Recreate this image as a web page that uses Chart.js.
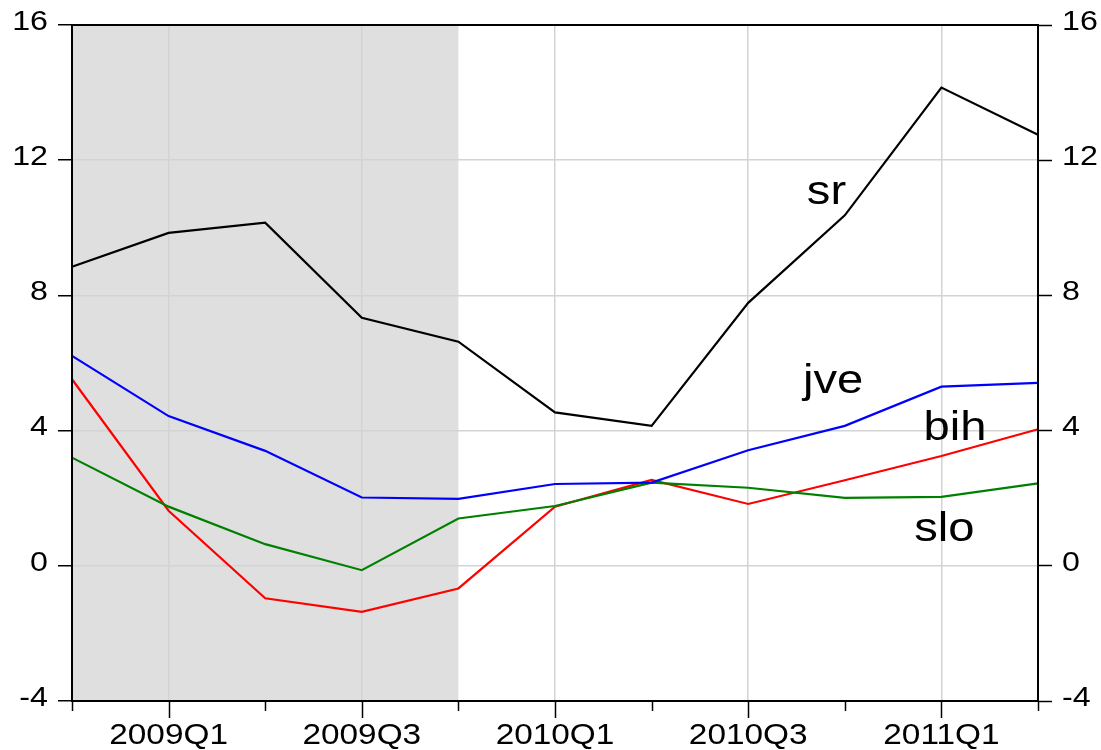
<!DOCTYPE html>
<html>
<head>
<meta charset="utf-8">
<script src="https://cdn.jsdelivr.net/npm/chart.js@4/dist/chart.umd.min.js"></script>
<style>
html,body{margin:0;padding:0;background:#fff;}
#wrap{width:1101px;height:750px;position:relative;}
</style>
</head>
<body>
<div id="wrap"><canvas id="c" width="1101" height="750"></canvas></div>
<script>
const quarters = ['2008Q4','2009Q1','2009Q2','2009Q3','2009Q4','2010Q1','2010Q2','2010Q3','2010Q4','2011Q1','2011Q2'];
const sr  = [8.85, 9.85, 10.15, 7.34, 6.63, 4.54, 4.14, 7.78, 10.37, 14.15, 12.75];
const jve = [6.21, 4.43, 3.40, 2.02, 1.98, 2.42, 2.46, 3.42, 4.14, 5.30, 5.41];
const bih = [5.52, 1.63, -0.96, -1.36, -0.67, 1.75, 2.54, 1.83, 2.53, 3.25, 4.04];
const slo = [3.20, 1.75, 0.64, -0.13, 1.40, 1.77, 2.46, 2.31, 2.01, 2.04, 2.44];
const xTickLabels = ['2009Q1','2009Q3','2010Q1','2010Q3','2011Q1'];
const yTicks = [-4, 0, 4, 8, 12, 16];
const shadeFrom = '2008Q4', shadeTo = '2009Q4';
const seriesNames = ['sr','jve','bih','slo'];

const FONT = "'Liberation Sans', Arial, sans-serif";
const STRETCH = 1.15;

function stretchedText(ctx, txt, x, y, align) {
  ctx.save();
  ctx.translate(x, y);
  ctx.scale(STRETCH, 1);
  ctx.textAlign = align;
  ctx.fillText(txt, 0, 0);
  ctx.restore();
}

const framePlugin = {
  id: 'frame',
  beforeDraw(chart) {
    const ctx = chart.ctx, a = chart.chartArea, xs = chart.scales.x;
    ctx.save();
    ctx.fillStyle = '#fff';
    ctx.fillRect(0, 0, chart.width, chart.height);
    const x0 = xs.getPixelForValue(quarters.indexOf(shadeFrom));
    const x1 = xs.getPixelForValue(quarters.indexOf(shadeTo));
    ctx.fillStyle = '#dfdfdf';
    ctx.fillRect(x0, a.top, x1 - x0, a.bottom - a.top);
    ctx.restore();
  },
  afterDraw(chart) {
    const ctx = chart.ctx, a = chart.chartArea, xs = chart.scales.x, ys = chart.scales.y;
    ctx.save();
    ctx.strokeStyle = '#000';
    ctx.lineWidth = 2;
    ctx.strokeRect(a.left, a.top, a.right - a.left, a.bottom - a.top);
    // x ticks
    ctx.lineWidth = 1.5;
    quarters.forEach((q, i) => {
      const px = Math.round(xs.getPixelForValue(i)) + 0.5;
      const len = xTickLabels.includes(q) ? 17 : 10;
      ctx.beginPath();
      ctx.moveTo(px, a.bottom);
      ctx.lineTo(px, a.bottom + len);
      ctx.stroke();
    });
    ctx.fillStyle = '#000';
    // x tick labels
    ctx.font = '29px ' + FONT;
    ctx.textBaseline = 'middle';
    quarters.forEach((q, i) => {
      if (xTickLabels.includes(q)) stretchedText(ctx, q, xs.getPixelForValue(i), a.bottom + 35, 'center');
    });
    // y tick labels, both sides
    ctx.font = '28px ' + FONT;
    yTicks.forEach(v => {
      const py = ys.getPixelForValue(v) - 3;
      stretchedText(ctx, String(v), a.left - 24, py, 'right');
      stretchedText(ctx, String(v), a.right + 24, py, 'left');
    });
    // series labels
    ctx.font = '41px ' + FONT;
    const pos = {sr: [7.81, 11.05], jve: [7.88, 5.45], bih: [9.14, 4.05], slo: [9.03, 1.06]};
    seriesNames.forEach(n => {
      const p = pos[n];
      stretchedText(ctx, n, xs.getPixelForValue(p[0]), ys.getPixelForValue(p[1]), 'center');
    });
    ctx.restore();
  }
};

const mk = (label, data, color) => ({
  label, data, borderColor: color, backgroundColor: color,
  borderWidth: 2.2, pointRadius: 0, tension: 0, fill: false, yAxisID: 'y'
});

new Chart(document.getElementById('c'), {
  type: 'line',
  data: {
    labels: quarters,
    datasets: [
      mk('sr', sr, '#000000'),
      mk('jve', jve, '#0000ff'),
      mk('slo', slo, '#008000'),
      mk('bih', bih, '#ff0000')
    ]
  },
  options: {
    responsive: false,
    animation: false,
    devicePixelRatio: 1,
    layout: { padding: { top: 25, left: 0, right: 0, bottom: 0 } },
    plugins: { legend: { display: false }, tooltip: { enabled: false } },
    scales: {
      x: {
        type: 'category',
        offset: false,
        border: { display: false },
        grid: {
          drawTicks: false,
          color: (c) => (c.tick && xTickLabels.includes(quarters[c.index])) ? '#d3d3d3' : 'rgba(0,0,0,0)',
          lineWidth: 1.5
        },
        ticks: { display: false, autoSkip: false, maxRotation: 0, minRotation: 0 },
        afterFit: (s) => { s.height = 49; }
      },
      y: {
        position: 'left',
        min: -4, max: 16,
        border: { display: false },
        afterBuildTicks: (s) => { s.ticks = yTicks.map(v => ({ value: v })); },
        grid: {
          color: (c) => (c.tick && (c.tick.value === -4 || c.tick.value === 16)) ? 'rgba(0,0,0,0)' : '#d3d3d3',
          lineWidth: 1.5,
          tickLength: 14,
          tickColor: '#000',
          tickWidth: 1.5
        },
        ticks: { display: false },
        afterFit: (s) => { s.width = 72; }
      },
      y2: {
        position: 'right',
        min: -4, max: 16,
        border: { display: false },
        afterBuildTicks: (s) => { s.ticks = yTicks.map(v => ({ value: v })); },
        grid: { drawOnChartArea: false, tickLength: 14, tickColor: '#000', tickWidth: 1.5 },
        ticks: { display: false },
        afterFit: (s) => { s.width = 63; }
      }
    }
  },
  plugins: [framePlugin]
});
</script>
</body>
</html>
